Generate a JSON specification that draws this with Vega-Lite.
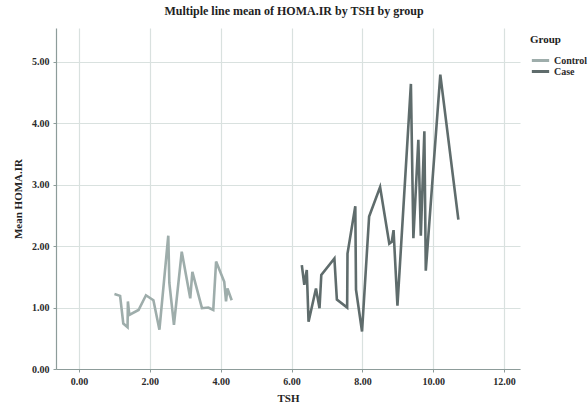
{
  "$schema": "https://vega.github.io/schema/vega-lite/v6.json",
  "width": 464,
  "height": 341,
  "autosize": "none",
  "padding": {"left": 56, "top": 28, "right": 68, "bottom": 33},
  "background": "white",
  "title": {
    "text": "Multiple line mean of HOMA.IR by TSH by group",
    "font": "Liberation Serif",
    "fontSize": 12,
    "fontWeight": "bold",
    "color": "#222222",
    "anchor": "middle",
    "dx": 6,
    "offset": 10
  },
  "config": {
    "view": {"stroke": null},
    "axis": {
      "labelFont": "Liberation Serif",
      "titleFont": "Liberation Serif",
      "labelFontWeight": "bold",
      "titleFontWeight": "bold",
      "labelFontSize": 10,
      "titleFontSize": 11,
      "labelColor": "#2a2a2a",
      "titleColor": "#222222",
      "gridColor": "#d9e1df",
      "gridWidth": 1.2,
      "domainColor": "#8d9c9a",
      "domainWidth": 1.2,
      "tickColor": "#8d9c9a",
      "tickSize": 3
    }
  },
  "data": {
    "values": [
      {"TSH": 1.00, "HOMA": 1.22, "Group": "Control", "ord": 1},
      {"TSH": 1.16, "HOMA": 1.19, "Group": "Control", "ord": 2},
      {"TSH": 1.25, "HOMA": 0.74, "Group": "Control", "ord": 3},
      {"TSH": 1.37, "HOMA": 0.68, "Group": "Control", "ord": 4},
      {"TSH": 1.38, "HOMA": 1.10, "Group": "Control", "ord": 5},
      {"TSH": 1.42, "HOMA": 0.88, "Group": "Control", "ord": 6},
      {"TSH": 1.68, "HOMA": 0.96, "Group": "Control", "ord": 7},
      {"TSH": 1.89, "HOMA": 1.20, "Group": "Control", "ord": 8},
      {"TSH": 2.10, "HOMA": 1.12, "Group": "Control", "ord": 9},
      {"TSH": 2.27, "HOMA": 0.64, "Group": "Control", "ord": 10},
      {"TSH": 2.52, "HOMA": 2.17, "Group": "Control", "ord": 11},
      {"TSH": 2.55, "HOMA": 1.40, "Group": "Control", "ord": 12},
      {"TSH": 2.68, "HOMA": 0.72, "Group": "Control", "ord": 13},
      {"TSH": 2.90, "HOMA": 1.91, "Group": "Control", "ord": 14},
      {"TSH": 3.14, "HOMA": 1.15, "Group": "Control", "ord": 15},
      {"TSH": 3.20, "HOMA": 1.58, "Group": "Control", "ord": 16},
      {"TSH": 3.47, "HOMA": 0.99, "Group": "Control", "ord": 17},
      {"TSH": 3.65, "HOMA": 1.00, "Group": "Control", "ord": 18},
      {"TSH": 3.79, "HOMA": 0.96, "Group": "Control", "ord": 19},
      {"TSH": 3.87, "HOMA": 1.75, "Group": "Control", "ord": 20},
      {"TSH": 4.10, "HOMA": 1.42, "Group": "Control", "ord": 21},
      {"TSH": 4.15, "HOMA": 1.10, "Group": "Control", "ord": 22},
      {"TSH": 4.19, "HOMA": 1.31, "Group": "Control", "ord": 23},
      {"TSH": 4.31, "HOMA": 1.12, "Group": "Control", "ord": 24},
      {"TSH": 6.29, "HOMA": 1.69, "Group": "Case", "ord": 1},
      {"TSH": 6.36, "HOMA": 1.37, "Group": "Case", "ord": 2},
      {"TSH": 6.43, "HOMA": 1.61, "Group": "Case", "ord": 3},
      {"TSH": 6.48, "HOMA": 0.77, "Group": "Case", "ord": 4},
      {"TSH": 6.69, "HOMA": 1.31, "Group": "Case", "ord": 5},
      {"TSH": 6.79, "HOMA": 0.99, "Group": "Case", "ord": 6},
      {"TSH": 6.84, "HOMA": 1.53, "Group": "Case", "ord": 7},
      {"TSH": 7.21, "HOMA": 1.80, "Group": "Case", "ord": 8},
      {"TSH": 7.28, "HOMA": 1.13, "Group": "Case", "ord": 9},
      {"TSH": 7.57, "HOMA": 1.00, "Group": "Case", "ord": 10},
      {"TSH": 7.58, "HOMA": 1.88, "Group": "Case", "ord": 11},
      {"TSH": 7.80, "HOMA": 2.65, "Group": "Case", "ord": 12},
      {"TSH": 7.82, "HOMA": 1.29, "Group": "Case", "ord": 13},
      {"TSH": 7.99, "HOMA": 0.61, "Group": "Case", "ord": 14},
      {"TSH": 8.19, "HOMA": 2.48, "Group": "Case", "ord": 15},
      {"TSH": 8.50, "HOMA": 2.96, "Group": "Case", "ord": 16},
      {"TSH": 8.76, "HOMA": 2.04, "Group": "Case", "ord": 17},
      {"TSH": 8.83, "HOMA": 2.07, "Group": "Case", "ord": 18},
      {"TSH": 8.88, "HOMA": 2.26, "Group": "Case", "ord": 19},
      {"TSH": 8.99, "HOMA": 1.03, "Group": "Case", "ord": 20},
      {"TSH": 9.37, "HOMA": 4.64, "Group": "Case", "ord": 21},
      {"TSH": 9.44, "HOMA": 2.13, "Group": "Case", "ord": 22},
      {"TSH": 9.58, "HOMA": 3.73, "Group": "Case", "ord": 23},
      {"TSH": 9.65, "HOMA": 2.17, "Group": "Case", "ord": 24},
      {"TSH": 9.75, "HOMA": 3.87, "Group": "Case", "ord": 25},
      {"TSH": 9.79, "HOMA": 1.60, "Group": "Case", "ord": 26},
      {"TSH": 10.20, "HOMA": 4.79, "Group": "Case", "ord": 27},
      {"TSH": 10.71, "HOMA": 2.43, "Group": "Case", "ord": 28}
    ]
  },
  "mark": {"type": "line", "strokeWidth": 2.6, "strokeJoin": "miter"},
  "encoding": {
    "x": {
      "field": "TSH",
      "type": "quantitative",
      "scale": {"domain": [-0.65, 12.45], "nice": false, "zero": false},
      "axis": {"values": [0, 2, 4, 6, 8, 10, 12], "format": ".2f", "title": "TSH", "titlePadding": 6, "labelPadding": 4}
    },
    "y": {
      "field": "HOMA",
      "type": "quantitative",
      "scale": {"domain": [0, 5.55], "nice": false},
      "axis": {"values": [0, 1, 2, 3, 4, 5], "format": ".2f", "title": "Mean HOMA.IR", "titlePadding": 8, "labelPadding": 4}
    },
    "color": {
      "field": "Group",
      "type": "nominal",
      "sort": ["Control", "Case"],
      "scale": {"domain": ["Control", "Case"], "range": ["#9eadab", "#5f6c6c"]},
      "legend": {
        "orient": "none",
        "legendX": 474,
        "legendY": 6,
        "title": "Group",
        "titleFont": "Liberation Serif",
        "titleFontSize": 11,
        "titleFontWeight": "bold",
        "titleColor": "#222222",
        "labelFont": "Liberation Serif",
        "labelFontSize": 10,
        "labelFontWeight": "bold",
        "labelColor": "#2a2a2a",
        "labelOffset": 3,
        "symbolType": "stroke",
        "symbolStrokeWidth": 3,
        "symbolSize": 300,
        "clipHeight": 11,
        "rowPadding": 0,
        "titlePadding": 10
      }
    },
    "order": {"field": "ord", "type": "quantitative"}
  }
}
